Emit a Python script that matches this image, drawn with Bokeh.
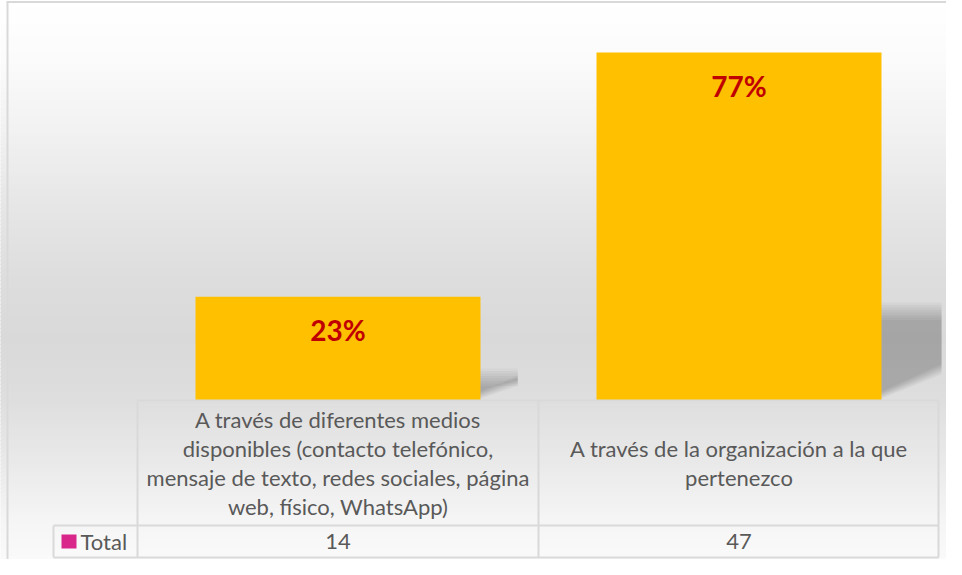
import numpy as np
from bokeh.plotting import figure
from bokeh.models import Range1d
from bokeh.core.properties import value
from bokeh.embed import file_html
from bokeh.resources import INLINE

# ---------------- data ----------------
categories = [
    "A través de diferentes medios disponibles (contacto telefónico, mensaje de texto, redes sociales, página web, físico, WhatsApp)",
    "A través de la organización a la que pertenezco",
]
category_lines = [
    ["A través de diferentes medios", "disponibles (contacto telefónico,",
     "mensaje de texto, redes sociales, página", "web, físico, WhatsApp)"],
    ["A través de la organización a la que", "pertenezco"],
]
series_name = "Total"
counts = [14, 47]
pct_labels = ["23%", "77%"]

# ---------------- layout (pixels -> data) ----------------
W, H = 946, 559
X0_PX = 337.5      # x of first category centre
UNIT_PX = 401.0    # width of one category column
BASE_PX = 400.0    # y of value 0
PX_PER = 348.0 / 47.0


def xd(px):
    return (px - X0_PX) / UNIT_PX


def yd(py):
    return (BASE_PX - py) / PX_PER


p = figure(width=W, height=H, output_backend="svg", toolbar_location=None,
           x_axis_type=None, y_axis_type=None, min_border=0,
           x_range=Range1d(xd(0), xd(W)),
           y_range=Range1d(yd(H), yd(0)))
p.outline_line_color = None
p.background_fill_color = "#ffffff"
p.border_fill_color = "#ffffff"

# background gradient
stops_y = [0, 60, 120, 200, 280, 340, 400, 460, 520, 575]
stops_v = [255, 251, 243, 231, 221, 217, 222, 233, 245, 252]
ys = np.arange(0, H + 4, 4)
tops, bots, cols = [], [], []
for a, b in zip(ys[:-1], ys[1:]):
    v = int(round(np.interp((a + b) / 2, stops_y, stops_v)))
    tops.append(yd(a))
    bots.append(yd(b))
    cols.append("#%02x%02x%02x" % (v, v, v))
p.quad(left=xd(-2), right=xd(W + 2), top=tops, bottom=bots,
       fill_color=cols, line_color=cols, line_width=1)

# bars geometry
idx = list(range(len(categories)))
bar_w = 285 / UNIT_PX

# perspective shadows (derived from bar heights), soft edges
CLIP_PX = 941
for i, c in zip(idx, counts):
    hpx = c * PX_PER
    xr = X0_PX + i * UNIT_PX + bar_w * UNIT_PX / 2
    wpx = min(0.36 * hpx, CLIP_PX - xr)
    top_px = BASE_PX - 0.27 * hpx
    n = 8
    for k in range(n):
        t = top_px - 4 + k * 2.5
        b_left = BASE_PX - 1 - k * 1.0
        b_right = BASE_PX - 0.5 * wpx + 4 - k * 1.5
        xs_ = [xd(xr - 2), xd(xr + wpx), xd(xr + wpx), xd(xr - 2)]
        ys_ = [yd(t), yd(t), yd(b_right), yd(b_left)]
        p.patch(xs_, ys_, fill_color="black", fill_alpha=0.032, line_color=None)

p.vbar(x=idx, top=counts, bottom=0, width=bar_w, fill_color="#FFC000", line_color=None)

# percentage labels
p.text(x=idx, y=counts, text=pct_labels, y_offset=33,
       text_align="center", text_baseline="middle",
       text_font=value("Lato"), text_font_style="bold", text_font_size="28px",
       text_color="#C00000")

# table lines
LC = "#d9d9d9"
x0s = [xd(137), xd(53), xd(53), xd(137), xd(538), xd(938), xd(53)]
x1s = [xd(938), xd(938), xd(938), xd(137), xd(538), xd(938), xd(53)]
y0s = [yd(400), yd(525), yd(557), yd(400), yd(400), yd(400), yd(525)]
y1s = [yd(400), yd(525), yd(557), yd(557), yd(557), yd(557), yd(557)]
p.segment(x0=x0s, y0=y0s, x1=x1s, y1=y1s, line_color=LC, line_width=2)
# chart outer border (left, top)
p.segment(x0=[xd(7), xd(6)], y0=[yd(1.5), yd(1.5)], x1=[xd(7), xd(W)], y1=[yd(H), yd(1.5)],
          line_color=LC, line_width=2)

# category labels (table header row)
tx, ty, tt = [], [], []
ROW_C = 462.5
LS = 29
for i, lines in zip(idx, category_lines):
    n = len(lines)
    for j, ln in enumerate(lines):
        tx.append(i)
        ty.append(yd(ROW_C + (j - (n - 1) / 2) * LS))
        tt.append(ln)
p.text(x=tx, y=ty, text=tt, text_align="center", text_baseline="middle",
       text_font=value("Lato"), text_font_size="22px", text_color="#595959")

# values row
p.text(x=idx, y=[yd(541)] * len(idx), text=[str(c) for c in counts],
       text_align="center", text_baseline="middle",
       text_font=value("Lato"), text_font_size="22px", text_color="#595959")

# legend key + series name
p.quad(left=[xd(61)], right=[xd(76)], top=[yd(534)], bottom=[yd(548)],
       fill_color="#D9268A", line_color=None)
p.text(x=[xd(80)], y=[yd(541)], text=[series_name], text_align="left",
       text_baseline="middle", text_font=value("Lato"), text_font_size="22px",
       text_color="#595959")

open("out.html", "w").write(file_html(p, INLINE))
